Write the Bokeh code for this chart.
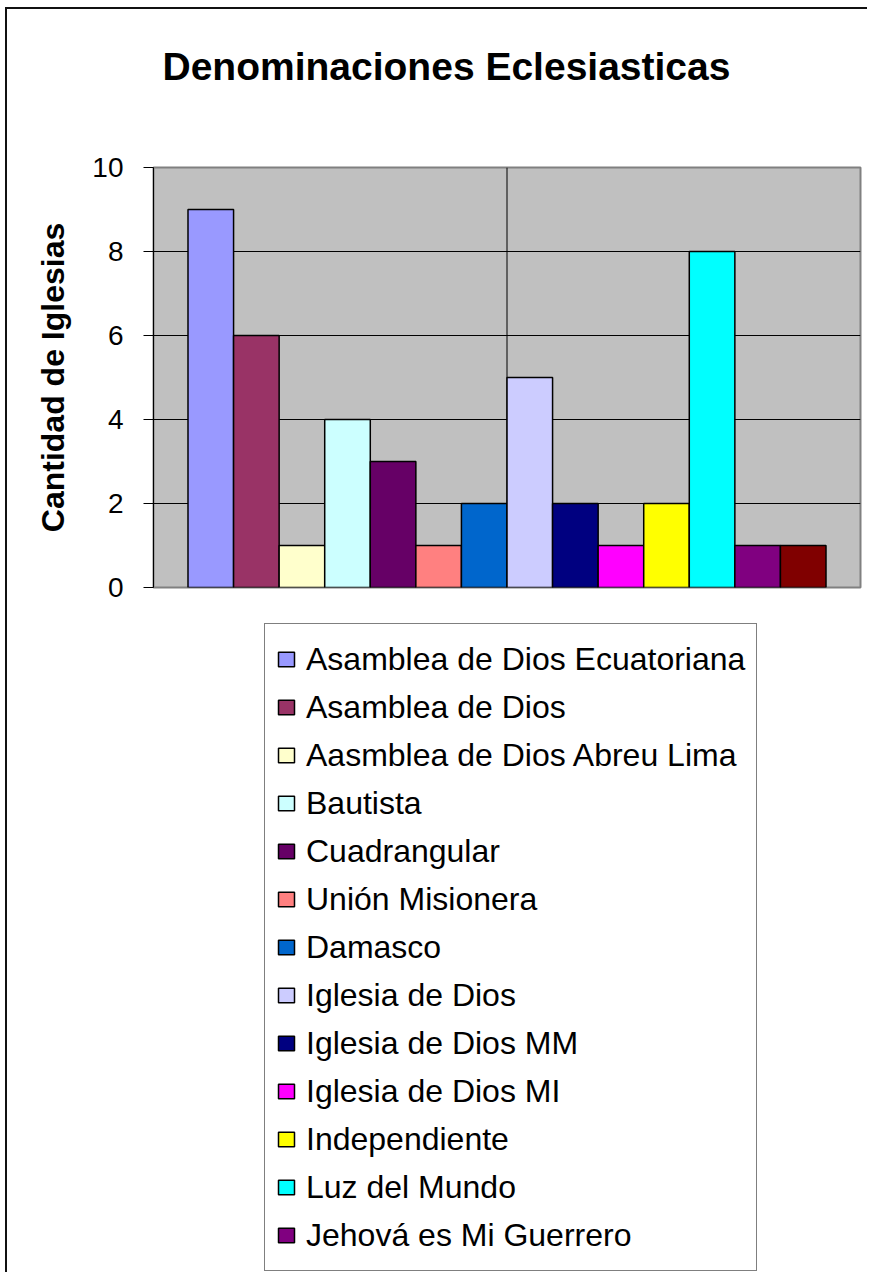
import numpy as np
from bokeh.plotting import figure
from bokeh.layouts import column
from bokeh.models import (ColumnDataSource, Range1d, FixedTicker, Span, Label,
                          Legend, LegendItem)
from bokeh.embed import file_html
from bokeh.resources import INLINE

# ---- data ----
title_text = "Denominaciones Eclesiasticas"
y_label = "Cantidad de Iglesias"
names = ["Asamblea de Dios Ecuatoriana", "Asamblea de Dios", "Aasmblea de Dios Abreu Lima",
         "Bautista", "Cuadrangular", "Unión Misionera", "Damasco", "Iglesia de Dios",
         "Iglesia de Dios MM", "Iglesia de Dios MI", "Independiente", "Luz del Mundo",
         "Jehová es Mi Guerrero", "Otra"]
values = [9, 6, 1, 4, 3, 1, 2, 5, 2, 1, 2, 8, 1, 1]
colors = ["#9999FF", "#993366", "#FFFFCC", "#CCFFFF", "#660066", "#FF8080", "#0066CC",
          "#CCCCFF", "#000080", "#FF00FF", "#FFFF00", "#00FFFF", "#800080", "#800000"]
y_ticks = [0, 2, 4, 6, 8, 10]
legend_count = 13  # the last series' entry is cut off in the original

FONT = "Liberation Sans"
n = len(values)
pad = 0.757
W = 862
BL, BR = 146, 9

src = ColumnDataSource(dict(x=np.arange(n) + 0.5, top=values, color=colors, name=names))


def blank(height, styles):
    f = figure(width=W, height=height, output_backend="svg", toolbar_location=None,
               x_range=Range1d(-pad, n + pad), y_range=Range1d(0, 10),
               x_axis_location=None, y_axis_location=None, title=None,
               min_border_left=BL, min_border_right=BR, min_border_top=0, min_border_bottom=0)
    f.styles = styles
    f.outline_line_color = None
    f.background_fill_color = "white"
    f.border_fill_color = "white"
    f.xgrid.visible = False
    f.ygrid.visible = False
    return f


# ---------- title strip ----------
t = blank(120, {"border-left": "2px solid #111111", "border-top": "2px solid #111111"})
t.add_layout(Label(x=9, y=63, x_units="screen", y_units="screen", text=title_text,
                   text_font=FONT, text_font_size="39px", text_font_style="bold",
                   text_align="left", text_baseline="alphabetic", text_color="black"))

# ---------- chart ----------
p = figure(width=W, height=491, output_backend="svg", toolbar_location=None, title=None,
           x_range=Range1d(-pad, n + pad), y_range=Range1d(0, 10),
           min_border_left=BL, min_border_right=BR, min_border_top=40, min_border_bottom=31)
p.styles = {"border-left": "2px solid #111111"}
p.background_fill_color = "#C0C0C0"
p.border_fill_color = "white"
p.outline_line_color = "#808080"
p.outline_line_width = 2

r = p.vbar(x="x", top="top", width=1.0, bottom=0, source=src, fill_color="color",
           line_color="black", line_width=1.5)

p.xaxis.visible = False
p.xgrid.visible = False
p.add_layout(Span(location=n / 2, dimension="height", line_color="black", line_width=1,
                  level="underlay"))

p.yaxis.ticker = FixedTicker(ticks=y_ticks)
p.yaxis.minor_tick_line_color = None
p.yaxis.major_tick_in = 0
p.yaxis.major_tick_out = 10
p.yaxis.major_tick_line_color = "black"
p.yaxis.axis_line_color = "black"
p.yaxis.major_label_text_font = FONT
p.yaxis.major_label_text_font_size = "28px"
p.yaxis.major_label_text_color = "black"
p.yaxis.major_label_standoff = 20
p.yaxis.axis_label = y_label
p.yaxis.axis_label_text_font = FONT
p.yaxis.axis_label_text_font_size = "32px"
p.yaxis.axis_label_text_font_style = "bold"
p.yaxis.axis_label_text_color = "black"
p.yaxis.axis_label_standoff = 18
p.ygrid.ticker = FixedTicker(ticks=[t_ for t_ in y_ticks if 0 < t_ < 10])
p.ygrid.grid_line_color = "black"
p.ygrid.grid_line_width = 1

# ---------- legend panel ----------
q = blank(654, {"border-left": "2px solid #111111"})
rq = q.vbar(x="x", top="top", width=1.0, bottom=0, source=src, fill_color="color",
            line_color="black", line_width=1.5, visible=False)

items = [LegendItem(label=names[i], renderers=[rq], index=i) for i in range(legend_count)]
legend = Legend(items=items, location=(111, 1), orientation="vertical",
                label_text_font=FONT, label_text_font_size="32px", label_text_color="black",
                glyph_width=20, glyph_height=18, label_height=48, spacing=0, padding=11,
                label_standoff=10, margin=0, border_line_color="black", border_line_width=1,
                background_fill_color="white", background_fill_alpha=1.0,
                inactive_fill_alpha=0.0)
q.add_layout(legend, "center")

layout = column(t, p, q, spacing=0, styles={"margin-left": "5px", "margin-top": "7px"})

open("out.html", "w").write(file_html(layout, INLINE))
